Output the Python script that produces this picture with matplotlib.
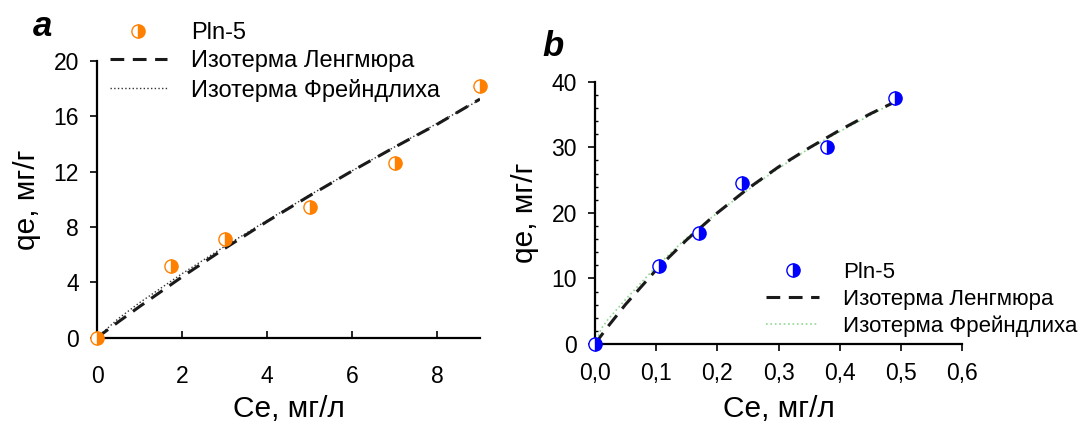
import matplotlib
matplotlib.use("Agg")
import matplotlib.pyplot as plt
from matplotlib.ticker import MultipleLocator, FixedLocator

plt.rcParams['font.family'] = ['Liberation Sans', 'DejaVu Sans']

# --- panel a: experimental points and fitted isotherms
ce_a = [0, 1.75, 3.0, 5.0, 7.0, 9.0]
qe_a = [0, 5.15, 7.15, 9.45, 12.6, 18.2]
fit_ce_a = [0, 0.5, 1, 2, 3, 4, 5, 6, 7, 8, 9]
lang_a = [0, 1.14, 2.25, 4.40, 6.45, 8.41, 10.27, 12.06, 13.78, 15.44, 17.25]
freu_a = [0, 1.38, 2.53, 4.63, 6.60, 8.48, 10.31, 12.07, 13.80, 15.50, 17.20]

# --- panel b
ce_b = [0, 0.105, 0.17, 0.24, 0.38, 0.49]
qe_b = [0, 11.9, 17.0, 24.5, 30.1, 37.5]
fit_ce_b = [0, 0.01, 0.02, 0.05, 0.1, 0.15, 0.2, 0.25, 0.3, 0.35, 0.4, 0.45, 0.49]
lang_b = [0, 1.27, 2.53, 6.04, 11.3, 15.9, 20.0, 23.7, 27.0, 29.9, 32.6, 35.1, 36.9]
freu_b = [0, 2.3, 3.6, 6.8, 11.8, 16.2, 20.0, 23.5, 26.8, 29.8, 32.4, 34.9, 36.9]

lbl_pts = 'Pln-5'
lbl_lang = 'Изотерма Ленгмюра'
lbl_freu = 'Изотерма Фрейндлиха'

W, H = 1081, 423
fig = plt.figure(figsize=(W / 100, H / 100), dpi=100)

fs_tick = 16.5
fs_lab = 21.5
dash = (0, (4.5, 2.8))


def style_axes(ax):
    for s in ['top', 'right']:
        ax.spines[s].set_visible(False)
    for s in ['left', 'bottom']:
        ax.spines[s].set_linewidth(1.6)
        ax.spines[s].set_color('black')
    ax.tick_params(labelsize=fs_tick, width=1.2, length=5)


def add_legend(ax, x, y, fs):
    # legend placed by its top-left corner in figure pixels
    h, l = ax.get_legend_handles_labels()
    ax.legend(h[::-1], l[::-1], loc='upper left',
              bbox_to_anchor=(x / W, 1 - y / H),
              bbox_transform=fig.transFigure, frameon=False, borderpad=0,
              borderaxespad=0, fontsize=fs, handlelength=2.4,
              handletextpad=1.05, labelspacing=0.27)


# panel a
axa = fig.add_axes([97 / W, (H - 337.7) / H, 383 / W, 276.7 / H])
axa.plot(fit_ce_a, freu_a, ls=':', color='#333333', lw=1.0, label=lbl_freu, zorder=2)
axa.plot(fit_ce_a, lang_a, ls=dash, color='#1a1a1a', lw=2.2, label=lbl_lang, zorder=3)
axa.plot(ce_a, qe_a, ls='none', marker='o', ms=9.5, fillstyle='right',
         color='#ff8000', markerfacecoloralt='white', mec='#ff8000', mew=1.0,
         label=lbl_pts, clip_on=False, zorder=5)
axa.set_xlim(0, 9)
axa.set_ylim(0, 20)
axa.xaxis.set_major_locator(FixedLocator([0, 2, 4, 6, 8]))
axa.yaxis.set_major_locator(MultipleLocator(4))
style_axes(axa)
axa.tick_params(axis='x', direction='in', pad=20)
axa.tick_params(axis='y', direction='out', pad=8)
axa.set_xlabel('Ce, мг/л', fontsize=fs_lab, labelpad=5)
axa.set_ylabel('qe, мг/г', fontsize=fs_lab, labelpad=9)
add_legend(axa, 110, 22, 17)
fig.text(43 / W, 1 - 27 / H, 'a', fontsize=25, fontweight='bold',
         fontstyle='italic', ha='center', va='center')

# panel b
axb = fig.add_axes([595 / W, (H - 344) / H, 367 / W, 262.3 / H])
axb.plot(fit_ce_b, freu_b, ls=':', color='#8fd88f', lw=1.2, label=lbl_freu, zorder=2)
axb.plot(fit_ce_b, lang_b, ls=dash, color='#1a1a1a', lw=2.2, label=lbl_lang, zorder=3)
axb.plot(ce_b, qe_b, ls='none', marker='o', ms=9.5, fillstyle='right',
         color='#0000ff', markerfacecoloralt='white', mec='#0000ff', mew=1.0,
         label=lbl_pts, clip_on=False, zorder=5)
axb.set_xlim(0, 0.6)
axb.set_ylim(0, 40)
axb.xaxis.set_major_locator(MultipleLocator(0.1))
axb.yaxis.set_major_locator(MultipleLocator(10))
axb.yaxis.set_minor_locator(MultipleLocator(2))
axb.xaxis.set_major_formatter(lambda v, p: f'{v:.1f}'.replace('.', ','))
style_axes(axb)
axb.tick_params(axis='x', direction='out', pad=8)
axb.tick_params(axis='y', direction='out', pad=8)
axb.tick_params(axis='y', which='minor', direction='in', length=2.5, width=1.0)
axb.set_xlabel('Ce, мг/л', fontsize=fs_lab, labelpad=7)
axb.set_ylabel('qe, мг/г', fontsize=fs_lab, labelpad=9)
add_legend(axb, 766, 261.5, 16)
fig.text(553 / W, 1 - 46 / H, 'b', fontsize=25, fontweight='bold',
         fontstyle='italic', ha='center', va='center')

fig.savefig('out.png', dpi=100)
